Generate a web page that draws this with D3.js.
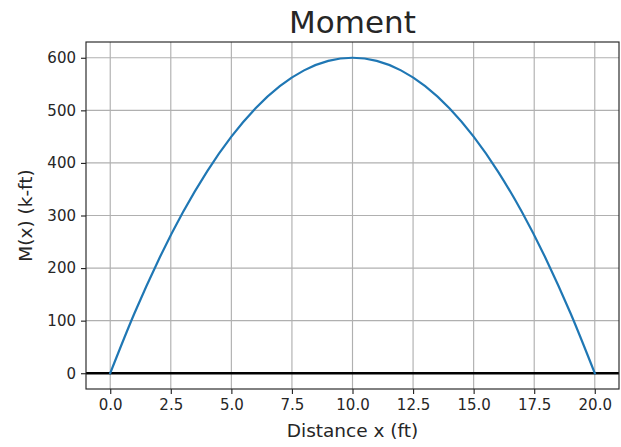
<!DOCTYPE html>
<html>
<head>
<meta charset="utf-8">
<script src="https://cdn.jsdelivr.net/npm/d3@7"></script>
<style>
  body { margin: 0; background: #fff; }
  text { font-family: "DejaVu Sans", sans-serif; fill: #262626; }
</style>
</head>
<body>
<script>
// values
var distance = [0, 1, 2, 3, 4, 5, 6, 7, 8, 9, 10, 11, 12, 13, 14, 15, 16, 17, 18, 19, 20];
var moment = [0, 114, 216, 306, 384, 450, 504, 546, 576, 594, 600, 594, 576, 546, 504, 450, 384, 306, 216, 114, 0];
var xTicks = [0, 2.5, 5, 7.5, 10, 12.5, 15, 17.5, 20];
var yTicks = [0, 100, 200, 300, 400, 500, 600];

var width = 621;
var height = 447;
var margin = { top: 42, left: 86, right: 2, bottom: 58 };

var svg = d3.select("body")
        .append("svg")
        .attr("width", width)
        .attr("height", height);

var xScale = d3.scaleLinear()
           .domain([-1, 21])
           .range([margin.left, width - margin.right]);

var yScale = d3.scaleLinear()
           .domain([-30, 630])
           .range([height - margin.bottom, margin.top]);

// grid
svg.append("g")
   .selectAll("line")
   .data(xTicks)
   .join("line")
   .attr("x1", function(d) { return xScale(d); })
   .attr("x2", function(d) { return xScale(d); })
   .attr("y1", margin.top)
   .attr("y2", height - margin.bottom)
   .attr("stroke", "#b0b0b0")
   .attr("stroke-width", 1.15);

svg.append("g")
   .selectAll("line")
   .data(yTicks)
   .join("line")
   .attr("y1", function(d) { return yScale(d); })
   .attr("y2", function(d) { return yScale(d); })
   .attr("x1", margin.left)
   .attr("x2", width - margin.right)
   .attr("stroke", "#b0b0b0")
   .attr("stroke-width", 1.15);

// axes
var xAxis = svg.append("g")
           .attr("transform", `translate(0,${height - margin.bottom})`)
           .call(d3.axisBottom(xScale).tickValues(xTicks).tickFormat(d3.format(".1f")).tickSize(5).tickPadding(5).tickSizeOuter(0));

var yAxis = svg.append("g")
           .attr("transform", `translate(${margin.left},0)`)
           .call(d3.axisLeft(yScale).tickValues(yTicks).tickSize(5).tickPadding(5).tickSizeOuter(0));

svg.selectAll(".domain").remove();
svg.selectAll(".tick line").attr("stroke", "#262626").attr("stroke-width", 1.15);
svg.selectAll(".tick text").style("font-size", "15px").style("font-family", "DejaVu Sans").attr("fill", "#262626");

// zero line
svg.append("line")
   .attr("x1", margin.left)
   .attr("x2", width - margin.right)
   .attr("y1", yScale(0))
   .attr("y2", yScale(0))
   .attr("stroke", "#000")
   .attr("stroke-width", 2.5);

// moment curve
var line = d3.line()
           .x(function(d, i) { return xScale(distance[i]); })
           .y(function(d) { return yScale(d); })
           .curve(d3.curveMonotoneX);

svg.append("path")
   .datum(moment)
   .attr("fill", "none")
   .attr("stroke", "#1f77b4")
   .attr("stroke-width", 2.2)
   .attr("stroke-linejoin", "round")
   .attr("stroke-linecap", "square")
   .attr("d", line);

// frame
svg.append("rect")
   .attr("x", margin.left)
   .attr("y", margin.top)
   .attr("width", width - margin.right - margin.left)
   .attr("height", height - margin.bottom - margin.top)
   .attr("fill", "none")
   .attr("stroke", "#262626")
   .attr("stroke-width", 1.15);

var plotMid = (margin.left + width - margin.right) / 2;

svg.append("text")
   .attr("x", plotMid)
   .attr("y", 33)
   .attr("text-anchor", "middle")
   .style("font-size", "31px")
   .attr("fill", "#000")
   .text("Moment");

svg.append("text")
   .attr("x", plotMid)
   .attr("y", 437)
   .attr("text-anchor", "middle")
   .style("font-size", "18.5px")
   .text("Distance x (ft)");

svg.append("text")
   .attr("transform", "rotate(-90)")
   .attr("x", -(margin.top + height - margin.bottom) / 2)
   .attr("y", 32)
   .attr("text-anchor", "middle")
   .style("font-size", "18.5px")
   .text("M(x) (k-ft)");
</script>
</body>
</html>
